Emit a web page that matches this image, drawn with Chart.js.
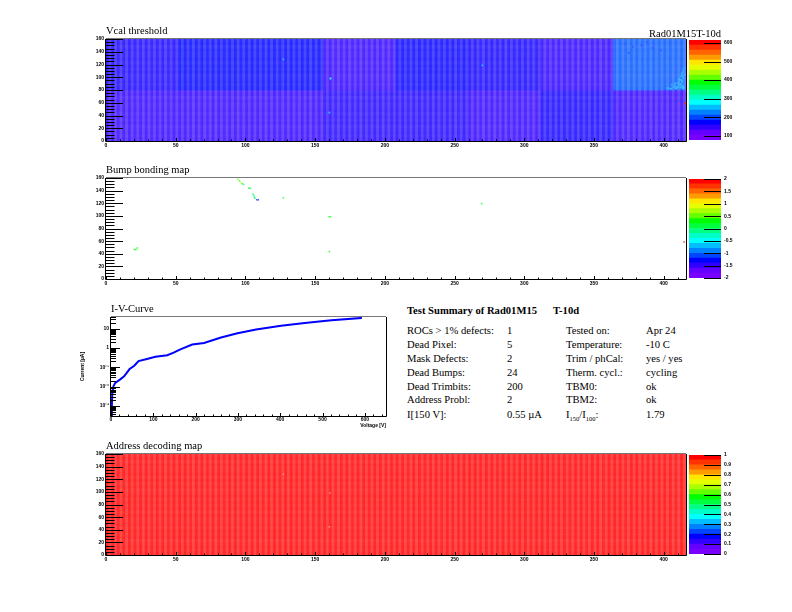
<!DOCTYPE html>
<html>
<head>
<meta charset="utf-8">
<script src="https://cdn.jsdelivr.net/npm/chart.js@4/dist/chart.umd.min.js"></script>
<style>
html,body{margin:0;padding:0;background:#fff;width:792px;height:612px;overflow:hidden}
canvas{position:absolute}
.t{position:absolute;font-family:"Liberation Serif",serif;font-size:10.6px;line-height:13px;color:#000;white-space:nowrap}
.t sub{font-size:6.5px;line-height:0}
</style>
</head>
<body>
<script>
// ---------- data ----------
const xTickLabels = [0,50,100,150,200,250,300,350,400];
const yTickLabels = [0,20,40,60,80,100,120,140,160];
const vcalTopRow    = [160,172,172,146,168,162,148,205];
const vcalBottomRow = [146,146,146,154,156,146,162,146];
const addressTopRow    = [1,1,1,1,1,1,1,1];
const addressBottomRow = [1,1,1,1,1,1,1,1];
const columnShade = [.15,.27,.15,.27,.16,.28,.15,.27,.15,.27,.16,.27,.15,.28,.15,.27,.16,.27,.15,.27,.15,.28,.16,.27,.15,.27];
const rowShade = [0,.02,0,.015,.03,0,.02,0,.025,0,.015,.02,0,.03,0,.02];
const vcalHotX = [127.2,161,160.2,269.9,415.2];
const vcalHotY = [128,98,44.6,118.6,58.7];
const vcalHotV = [245,280,245,245,600];
const vcalSpeckX = [403,405,407,408,409,410,411,412,413,414,406,408,410,411,412,413,414,411,412,413,414,412,413,414,413,414,415,414,415,372,378,384,392,375,388,398];
const vcalSpeckY = [83,82,84,86,83,85,88,84,87,83,88,90,91,93,89,92,85,97,96,95,99,101,103,100,106,108,104,111,114,152,148,150,146,138,155,142];
const vcalSpeckV = [240,245,235,240,250,240,235,250,240,255,230,235,240,235,245,240,250,235,240,245,235,230,240,235,230,235,240,230,235,188,190,188,190,190,188,190];
const bumpX = [94.6,95.8,96.8,97.7,98.7,102.5,103.4,105.4,106.1,106.3,106.8,108.2,109.2,127.2,160,161,160.2,20.4,21.5,22.5,269.4,414.7];
const bumpY = [157.9,155.3,152.6,151,149.9,144,143.6,134.5,132.4,129.7,128.1,125.4,125.4,128.7,98.7,98.7,43.6,46.6,46.6,49.2,119.6,58.5];
const bumpV = [.5,.3,1,.1,0,.1,.2,.1,0,-.5,.1,-1.2,-1.2,.2,.2,.2,.3,.3,.3,.2,.3,2];
const addressHotX = [127.2,160.5,160.2];
const addressHotY = [128,98,44.6];
const vcalBarTicks = [100,200,300,400,500,600];
const bumpBarTicks = [-2,-1.5,-1,-0.5,0,0.5,1,1.5,2];
const addressBarTicks = [0,0.1,0.2,0.3,0.4,0.5,0.6,0.7,0.8,0.9,1];
const ivVoltage = [0,2,3,5.5,10,21,31,44,55,65,85,105,133,148,164,192,220,260,299,343,402,458,521,593];
const ivCurrent = [0.00034,0.001,0.0048,0.01,0.0155,0.023,0.034,0.081,0.12,0.21,0.27,0.35,0.42,0.57,0.85,1.5,1.8,3.5,5.8,8.9,14,19.5,27,36];
const ivXTicks = [0,100,200,300,400,500,600];
const ivYTicks = [0.001,0.01,0.1,1,10];
const ivYLabels = ['10\u207B\u00B3','10\u207B\u00B2','10\u207B\u00B9','1','10'];
const summaryLeftLabels  = ['ROCs > 1% defects:','Dead Pixel:','Mask Defects:','Dead Bumps:','Dead Trimbits:','Address Probl:','I[150 V]:'];
const summaryLeftValues  = ['1','5','2','24','200','2','0.55 \u00B5A'];
const summaryRightLabels = ['Tested on:','Temperature:','Trim / phCal:','Therm. cycl.:','TBM0:','TBM2:','I<sub>150</sub>/I<sub>100</sub>:'];
const summaryRightValues = ['Apr 24','-10 C','yes / yes','cycling','ok','ok','1.79'];
const palette = [[120,0,255],[100,0,255],[50,0,255],[0,0,255],[0,70,255],[0,130,255],[0,190,255],[0,255,255],[0,255,200],[0,255,130],[0,255,60],[0,255,0],[100,255,0],[170,255,0],[230,255,0],[255,230,0],[255,155,0],[255,100,0],[255,50,0],[255,0,0]];

// ---------- helpers ----------
Chart.defaults.animation = false;
Chart.defaults.devicePixelRatio = 1;
Chart.defaults.font.family = '"Liberation Sans",sans-serif';
const tickFont = {size:5,weight:'bold',family:'"Liberation Sans",sans-serif'};
const titleFont = {size:10.5,weight:'normal',lineHeight:'13px',family:'"Liberation Serif",serif'};
const noGrid = {display:false,drawTicks:false};

function color(v,lo,hi,white){
  const f = Math.max(0,Math.min(19,(v-lo)/(hi-lo)*20-0.5));
  const i = Math.floor(f), j = Math.min(19,i+1), t = f-i;
  const c = palette[i].map((p,k)=>(p+(palette[j][k]-p)*t)*(1-white)+255*white);
  return `rgb(${c.map(Math.round).join(',')})`;
}
function addCanvas(l,t,w,h){
  const c = document.createElement('canvas');
  c.width=w;c.height=h;
  c.style.cssText=`left:${l}px;top:${t}px;width:${w}px;height:${h}px`;
  document.body.appendChild(c);
  return c;
}
function framePlugin(o){
  return {id:'frame',afterDraw(ch){
    const g=ch.ctx,a=ch.chartArea,sx=ch.scales.x,sy=ch.scales.y;
    g.save();g.lineWidth=1;g.strokeStyle='#000';
    const px=v=>Math.round(v)+.5;
    const h=(y,len)=>{g.beginPath();g.moveTo(a.left,px(y));g.lineTo(a.left+len,px(y));g.stroke();};
    const v=(x,len)=>{g.beginPath();g.moveTo(px(x),a.bottom);g.lineTo(px(x),a.bottom-len);g.stroke();};
    o.yMajor.forEach(t=>h(sy.getPixelForValue(t),o.yLong));
    o.yMinor.forEach(t=>h(sy.getPixelForValue(t),o.yShort));
    o.xMajor.forEach(t=>v(sx.getPixelForValue(t),3));
    o.xMinor.forEach(t=>v(sx.getPixelForValue(t),1.5));
    g.strokeStyle='#777';
    g.beginPath();g.moveTo(a.left,a.top-.5);g.lineTo(a.right,a.top-.5);g.stroke();
    g.strokeStyle='#000';
    g.beginPath();g.moveTo(a.left-.5,a.top);g.lineTo(a.left-.5,a.bottom+.5);g.lineTo(a.right+.5,a.bottom+.5);g.lineTo(a.right+.5,a.top);g.stroke();
    g.restore();
  }};
}
function minors(n,step,drop){
  const r=[];
  for(let i=0;i<n;i++){ const t=i*step; if(t%drop!==0) r.push(t); }
  return r;
}
function rocBars(rowValues,lo,hi,yFrom,yTo){
  const out=[];
  const dy=(yTo-yFrom)/rowShade.length;
  rowShade.forEach((rs,r)=>{
    const data=[],bg=[];
    rowValues.forEach((val,roc)=>{
      columnShade.forEach((shade,k)=>{
        data.push({x:roc*52+k*2+1,y:[yFrom+r*dy,yFrom+(r+1)*dy]});
        bg.push(color(val,lo,hi,shade+rs));
      });
    });
    out.push({type:'bar',data,backgroundColor:bg,borderWidth:0,grouped:false,barPercentage:1,categoryPercentage:1,order:2});
  });
  return out;
}
function heatmap(top,plotH,title,datasets){
  const c=addCanvas(76,top-15,614,15+plotH+12);
  new Chart(c,{
    type:'bar',
    data:{datasets},
    plugins:[framePlugin({yMajor:yTickLabels,yMinor:minors(33,5,20),xMajor:xTickLabels,xMinor:minors(42,10,50),yLong:17,yShort:8.5})],
    options:{
      responsive:false,maintainAspectRatio:false,
      layout:{padding:{left:0,right:4,top:0,bottom:0}},
      plugins:{legend:{display:false},tooltip:{enabled:false},
        title:{display:true,text:title,align:'start',fullSize:false,color:'#000',font:titleFont,padding:{top:1,bottom:1}}},
      scales:{
        x:{type:'linear',offset:false,min:0,max:416,grid:noGrid,border:{display:false},
          afterBuildTicks:s=>{s.ticks=xTickLabels.map(v=>({value:v}));},
          afterFit:s=>{s.height=12;},
          ticks:{font:tickFont,color:'#000',padding:2,maxRotation:0,autoSkip:false,callback:v=>String(v)}},
        y:{type:'linear',min:0,max:160,grid:noGrid,border:{display:false},
          afterBuildTicks:s=>{s.ticks=yTickLabels.map(v=>({value:v}));},
          afterFit:s=>{s.width=30;},
          ticks:{font:tickFont,color:'#000',padding:2,autoSkip:false,callback:v=>String(v)}}
      }
    }
  });
}
function scatterCells(xs,ys,colors,size){
  return {type:'scatter',data:xs.map((x,i)=>({x,y:ys[i]})),backgroundColor:colors,pointStyle:'rect',
    pointRadius:size,pointBorderWidth:0,borderWidth:0,showLine:false,order:1};
}
function colorBar(top,plotH,lo,hi,ticks){
  const c=addCanvas(689,top-5,58,plotH+10);
  const step=(hi-lo)/20;
  const datasets=palette.map((p,i)=>({data:[[lo+i*step,lo+(i+1)*step]],backgroundColor:`rgb(${p.join(',')})`,borderWidth:0,grouped:false,barPercentage:1,categoryPercentage:1}));
  new Chart(c,{
    type:'bar',
    data:{labels:[''],datasets},
    plugins:[{id:'barTicks',afterDraw(ch){
      const g=ch.ctx,a=ch.chartArea,sy=ch.scales.y;
      g.save();g.strokeStyle='#000';g.lineWidth=1;
      ticks.forEach(t=>{const y=Math.round(sy.getPixelForValue(t))+.5;g.beginPath();g.moveTo(a.right,y);g.lineTo(a.right-17,y);g.stroke();});
      g.restore();
    }}],
    options:{
      responsive:false,maintainAspectRatio:false,
      layout:{padding:{left:0,right:0,top:5,bottom:5}},
      plugins:{legend:{display:false},tooltip:{enabled:false}},
      scales:{
        x:{display:false},
        y:{position:'right',min:lo,max:hi,grid:noGrid,border:{display:false},
          afterBuildTicks:s=>{s.ticks=ticks.map(v=>({value:v}));},
          afterFit:s=>{s.width=26;},
          ticks:{font:tickFont,color:'#000',padding:3,autoSkip:false,callback:v=>String(v)}}
      }
    }
  });
}

// ---------- Vcal threshold ----------
heatmap(39,102,'Vcal threshold',[
  scatterCells(vcalHotX,vcalHotY,vcalHotV.map(v=>color(v,77,616,.12)),1.3),
  scatterCells(vcalSpeckX,vcalSpeckY,vcalSpeckV.map(v=>color(v,77,616,.22)),1.4),
  ...rocBars(vcalTopRow,77,616,80,160),
  ...rocBars(vcalBottomRow,77,616,0,80)
]);
colorBar(39,102,77,616,vcalBarTicks);

// ---------- Bump bonding map ----------
heatmap(178,101,'Bump bonding map',[
  scatterCells(bumpX,bumpY,bumpV.map(v=>color(v,-2,2,.25)),1.1)
]);
colorBar(178,101,-2,2,bumpBarTicks);

// ---------- Address decoding map ----------
heatmap(454,101,'Address decoding map',[
  scatterCells(addressHotX,addressHotY,addressHotX.map(()=>'#ffa0a0'),1),
  ...rocBars(addressTopRow,0,1,80,160),
  ...rocBars(addressBottomRow,0,1,0,80)
]);
colorBar(454,101,0,1,addressBarTicks);

// ---------- I-V curve ----------
(function(){
  const c=addCanvas(76,302,314,15+99+13);
  const yMinor=[];
  [0.0001,0.001,0.01,0.1,1,10].forEach(d=>{[2,3,4,5,6,7,8,9].forEach(m=>{const v=d*m;if(v>=0.00034&&v<=40)yMinor.push(v);});});
  new Chart(c,{
    type:'line',
    data:{datasets:[{data:ivVoltage.map((x,i)=>({x,y:ivCurrent[i]})),borderColor:'#0000ff',borderWidth:2,pointRadius:0,fill:false,tension:0}]},
    plugins:[framePlugin({yMajor:ivYTicks,yMinor,xMajor:ivXTicks,xMinor:minors(33,20,100),yLong:9,yShort:5})],
    options:{
      responsive:false,maintainAspectRatio:false,
      layout:{padding:{left:0,right:4,top:0,bottom:0}},
      plugins:{legend:{display:false},tooltip:{enabled:false},
        title:{display:true,text:'I-V-Curve',align:'start',fullSize:false,color:'#000',font:titleFont,padding:{top:1,bottom:1}}},
      scales:{
        x:{type:'linear',min:0,max:650,grid:noGrid,border:{display:false},
          afterBuildTicks:s=>{s.ticks=ivXTicks.map(v=>({value:v}));},
          afterFit:s=>{s.height=13;},
          title:{display:true,text:'Voltage [V]',align:'end',color:'#000',font:tickFont,padding:{top:0,bottom:0}},
          ticks:{font:tickFont,color:'#000',padding:1,maxRotation:0,autoSkip:false,callback:v=>String(v)}},
        y:{type:'logarithmic',min:0.00034,max:40,grid:noGrid,border:{display:false},
          afterBuildTicks:s=>{s.ticks=ivYTicks.map(v=>({value:v}));},
          afterFit:s=>{s.width=35;},
          title:{display:true,text:'Current [\u00B5A]',color:'#000',font:tickFont,padding:{top:4,bottom:0}},
          ticks:{font:tickFont,color:'#000',padding:2,autoSkip:false,callback:(v,i)=>ivYLabels[i]}}
      }
    }
  });
})();

// ---------- text ----------
function text(x,y,html,extra){
  const d=document.createElement('div');
  d.className='t';
  d.style.left=x+'px';d.style.top=y+'px';
  if(extra)d.style.cssText+=extra;
  d.innerHTML=html;
  document.body.appendChild(d);
}
text(649,27,'Rad01M15T-10d','font-size:10.5px');
text(407,304,'Test Summary of Rad01M15','font-weight:bold');
text(553,304,'T-10d','font-weight:bold');
const rowTops=[324,338,352,366,380,393,408];
rowTops.forEach((y,i)=>{
  text(407,y,summaryLeftLabels[i]);
  text(507,y,summaryLeftValues[i]);
  text(566,y,summaryRightLabels[i]);
  text(646,y,summaryRightValues[i]);
});
</script>
</body>
</html>
